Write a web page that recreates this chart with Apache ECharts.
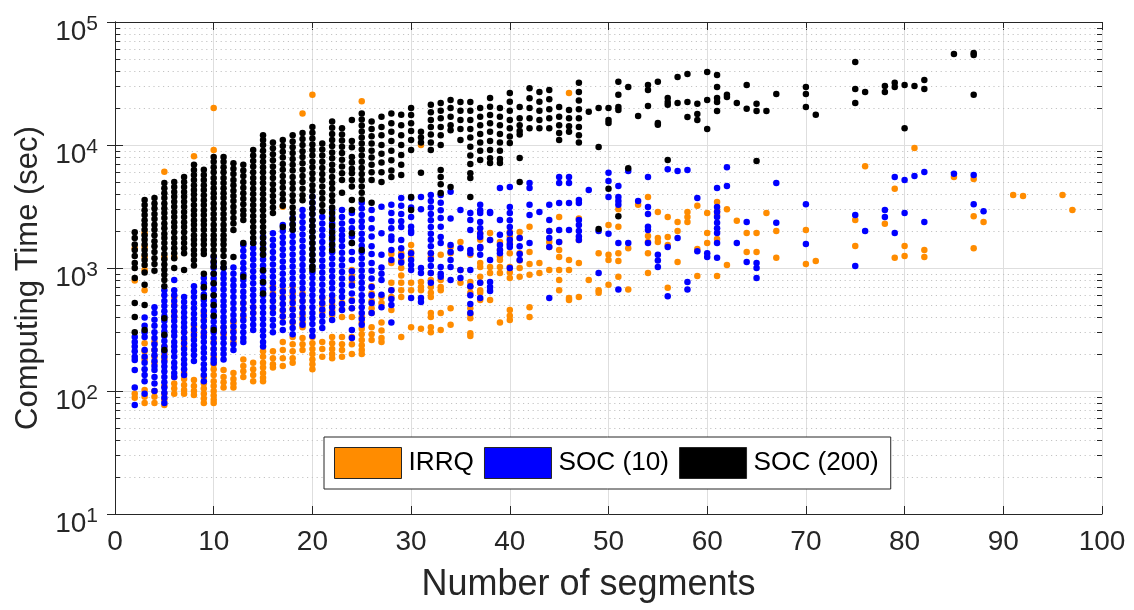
<!DOCTYPE html>
<html>
<head>
<meta charset="utf-8">
<title>Computing time vs number of segments</title>
<script src="https://cdn.jsdelivr.net/npm/echarts@6/dist/echarts.min.js"></script>
<style>
  html, body { margin: 0; padding: 0; background: #ffffff; }
  #chart { width: 1134px; height: 610px; }
</style>
</head>
<body>
<div id="chart"></div>
<script>
// Computing time (sec) per run, grouped by number of segments: [segments, [times...]]
const irrqTimes = [
  [2, [1450, 790, 95, 88]],
  [3, [1930, 1480, 1230, 965, 660, 245, 210, 180, 102, 90, 80]],
  [4, [250, 215, 190, 170, 100, 90, 80]],
  [5, [6050, 1230, 230, 200, 180, 110, 95, 85, 77]],
  [6, [1230, 580, 500, 440, 400, 130, 115, 105, 95]],
  [7, [300, 260, 230, 140, 125, 112, 102, 95]],
  [8, [8100, 340, 300, 275, 123, 110, 100, 93]],
  [9, [430, 380, 330, 290, 130, 115, 105, 95, 87, 80]],
  [10, [20000, 9100, 250, 220, 190, 165, 150, 135, 120, 110, 100, 92, 85, 80]],
  [11, [330, 290, 148, 130, 118, 107]],
  [12, [360, 310, 270, 250, 140, 125, 115, 107]],
  [13, [520, 460, 400, 180, 160, 145, 130]],
  [14, [480, 430, 170, 150, 135, 120]],
  [15, [210, 190, 170, 155, 140, 128, 120]],
  [16, [710, 620, 540, 470, 210, 185, 165, 155]],
  [17, [3150, 660, 580, 510, 450, 400, 250, 215, 185, 160]],
  [18, [710, 620, 540, 470, 410, 360, 275, 240, 210, 185, 170]],
  [19, [18000, 620, 540, 470, 410, 360, 330, 270, 240, 215]],
  [20, [25600, 275, 245, 220, 200, 180, 165, 150]],
  [21, [570, 500, 440, 250, 220, 190]],
  [22, [570, 500, 450, 415, 275, 245, 220, 200, 185]],
  [23, [520, 460, 400, 275, 240, 215, 190]],
  [24, [965, 860, 760, 550, 470, 400, 275, 240, 200]],
  [25, [22700, 400, 360, 320, 290, 260, 235, 215, 200]],
  [26, [710, 620, 540, 470, 430, 330, 290, 260]],
  [27, [580, 520, 360, 310, 270, 250]],
  [28, [1300, 1100, 760, 660, 580, 456]],
  [29, [1320, 1150, 1000, 870, 760, 660, 580, 275]],
  [30, [1540, 1350, 1230, 760, 660, 330]],
  [31, [10000, 770, 700, 660, 320]],
  [32, [1320, 1230, 910, 800, 700, 630, 580, 430, 400, 330, 300]],
  [33, [1280, 800, 700, 660, 430, 313]],
  [34, [1480, 1320, 470, 345]],
  [35, [1630, 965, 760]],
  [36, [1280, 770, 700, 630, 470, 420, 390, 295, 280]],
  [37, [1930, 1700, 1480, 1100, 1020, 850, 760, 660, 630, 550]],
  [38, [1930, 1690, 1020, 910, 550]],
  [39, [1630, 1400, 1240, 1160, 1020, 910, 360]],
  [40, [1960, 1800, 1630, 1320, 1020, 920, 830, 456, 410, 378]],
  [41, [1960, 1750, 1320, 1150, 1000, 850]],
  [42, [2160, 1350, 1080, 880, 480, 400]],
  [43, [1100, 910]],
  [44, [2000, 1630, 1480, 965]],
  [45, [2600, 1630, 1400, 1230, 965, 800, 660]],
  [46, [26450, 1160, 965, 570, 550]],
  [47, [2530, 1690, 1100, 580]],
  [48, [800]],
  [49, [1320, 660, 630]],
  [50, [2240, 1280, 1160, 730]],
  [51, [3000, 2160, 1320, 1140, 850]],
  [52, [1450, 670]],
  [53, [3260]],
  [54, [3780, 1820, 1630, 1320, 910]],
  [55, [2850, 1750, 1630]],
  [56, [2600, 1790, 1540, 690]],
  [57, [2370, 2000, 1120]],
  [58, [2850, 2600, 2370]],
  [59, [3200, 1430, 860]],
  [60, [2800, 1930, 1600]],
  [61, [3440, 2900, 2700, 1720, 860]],
  [62, [3000, 1060]],
  [63, [2420]],
  [64, [1930, 1350]],
  [65, [1930, 1350]],
  [66, [2800]],
  [67, [2000, 1210]],
  [70, [2040, 1080]],
  [71, [1140]],
  [75, [2460, 1510]],
  [76, [6730]],
  [78, [2290]],
  [79, [4400, 1210]],
  [80, [1510, 1250]],
  [81, [9470]],
  [82, [1400, 1230]],
  [85, [5500]],
  [87, [5300, 2640, 1450]],
  [88, [2370]],
  [91, [3930]],
  [92, [3850]],
  [96, [3930]],
  [97, [2960]]
];

const soc10Times = [
  [2, [275, 250, 230, 210, 190, 179, 148, 107, 77]],
  [3, [395, 340, 300, 275, 215, 190, 170, 150, 135, 120, 95]],
  [4, [480, 430, 380, 340, 300, 270, 240, 215, 195, 175, 160, 148, 130, 115, 100]],
  [5, [660, 600, 540, 490, 445, 405, 370, 335, 305, 280, 255, 230, 210, 190, 173, 158, 144, 130, 118, 107, 97, 88, 80]],
  [6, [800, 660, 600, 540, 490, 445, 405, 370, 335, 305, 280, 250, 230, 210, 190, 170, 155, 140, 130]],
  [7, [580, 530, 480, 435, 395, 360, 330, 300, 270, 245, 220, 200, 180, 165, 150, 135]],
  [8, [710, 640, 580, 520, 470, 425, 385, 350, 315, 285, 260, 235, 215, 195, 175]],
  [9, [830, 750, 680, 610, 550, 500, 450, 410, 370, 335, 300, 275, 250, 225, 205, 185, 165, 150, 135, 120]],
  [10, [1230, 1100, 1000, 900, 820, 740, 670, 600, 540, 490, 445, 400, 365, 330, 300, 270, 245, 220, 200, 180, 170]],
  [11, [1000, 900, 820, 740, 670, 600, 540, 490, 445, 400, 365, 330, 300, 270, 245, 220, 200, 180]],
  [12, [1010, 900, 800, 720, 650, 580, 520, 465, 415, 375, 335, 300, 270, 240, 215]],
  [13, [1540, 1380, 1240, 1100, 990, 890, 800, 720, 640, 580, 520, 465, 415, 375, 335, 300, 270, 250]],
  [14, [1600, 1450, 1300, 1170, 1050, 940, 840, 750, 670, 600, 540, 480, 430, 385, 345, 313]],
  [15, [1790, 1600, 1450, 1300, 1170, 1050, 940, 840, 750, 670, 600, 540, 480, 430, 385, 345, 310, 280, 250, 230]],
  [16, [1920, 1700, 1520, 1350, 1200, 1070, 950, 850, 760, 680, 600, 540, 480, 430, 380, 340, 300]],
  [17, [2240, 2000, 1780, 1600, 1420, 1270, 1130, 1010, 900, 800, 720, 640, 570, 510, 455, 405, 360, 313]],
  [18, [2550, 2280, 2040, 1820, 1620, 1450, 1290, 1150, 1030, 920, 820, 730, 650, 580, 520, 460, 410, 365, 325, 290]],
  [19, [2960, 2650, 2350, 2100, 1870, 1670, 1490, 1330, 1190, 1060, 950, 850, 760, 680, 600, 540, 480, 430, 385, 345]],
  [20, [3800, 3400, 3050, 2750, 2450, 2200, 1980, 1780, 1600, 1430, 1280, 1150, 1030, 920, 830, 740, 670, 600, 540, 480, 430, 390, 350, 310, 280]],
  [21, [2600, 2300, 2050, 1830, 1630, 1450, 1300, 1150, 1030, 920, 820, 730, 650, 580, 520, 460, 410, 365, 325]],
  [22, [2960, 2600, 2300, 2050, 1850, 1690, 1500, 1340, 1200, 1070, 950, 850, 760, 680, 600, 540, 480, 430, 378]],
  [23, [2960, 2600, 2300, 2050, 1850, 1690, 1500, 1330, 1180, 1050, 930, 820, 730, 650, 580, 510, 456]],
  [24, [2800, 2400, 2100, 1800, 1600, 1350, 1160, 940, 820, 720, 620, 540, 470, 313, 270]],
  [25, [3400, 3050, 2700, 2400, 2150, 1900, 1700, 1520, 1350, 1200, 1070, 950, 850, 760, 680, 600, 540, 480, 430, 385, 345]],
  [26, [2960, 2500, 2100, 1800, 1500, 1300, 1100, 950, 820, 700, 600, 520, 430]],
  [27, [3150, 1920, 1280, 1010, 900, 800, 605, 480]],
  [28, [3260, 2800, 2400, 2100, 1800, 1690, 1400, 1160, 660, 560, 500, 360]],
  [29, [3700, 3200, 2750, 2400, 2150, 1690, 1450, 1250, 1110]],
  [30, [3700, 3100, 2600, 2160, 2000, 1930, 1320, 1160, 1060, 965, 570]],
  [31, [3780, 3000, 1000, 910, 570, 530]],
  [32, [3930, 3500, 3100, 2750, 2450, 2150, 1900, 1700, 1500, 1320, 1170, 1040, 910, 760]],
  [33, [3930, 3400, 2950, 2550, 2160, 1790, 1600, 1020, 900, 850]],
  [34, [4160, 2530, 1540, 1350, 1160, 1020, 800]],
  [35, [2960, 1450, 965, 830]],
  [36, [2800, 2460, 2040, 1400, 1320, 965, 710, 600, 510, 430]],
  [37, [3260, 2950, 2800, 2370, 2100, 1900, 1790, 1480, 1450, 1280, 760, 570]],
  [38, [2850, 2800, 1690, 1160, 770, 700, 650]],
  [39, [4480, 2460, 1860, 1540, 1400, 1320]],
  [40, [4560, 3130, 2800, 2450, 2150, 1930, 1700, 1560, 1480, 1000]],
  [41, [1750, 1500, 1300, 1160]],
  [42, [4900, 4480, 3260, 2700, 1600]],
  [43, [2850]],
  [44, [3260, 2460, 2000, 1750, 1480, 570]],
  [45, [5500, 4900, 3370, 2040, 1630]],
  [46, [5500, 4900, 3370, 2040]],
  [47, [3570, 3370, 2460, 2240, 2000, 1800, 1690]],
  [48, [4300]],
  [49, [2000, 910]],
  [50, [5940, 5100, 3780, 1900]],
  [51, [4650, 3780, 3500, 3260, 1600, 670]],
  [52, [6150, 1600]],
  [53, [3500]],
  [54, [5500, 3130, 2750, 2160, 2040, 1600]],
  [55, [1280, 1150, 1020]],
  [56, [6360, 1480, 590]],
  [57, [6150, 1750]],
  [58, [6270, 770, 670]],
  [59, [3710, 1370]],
  [60, [1320, 1230]],
  [61, [4480, 3130, 2850, 2600, 2330, 2100, 1930, 1600, 1210]],
  [62, [6600, 4650]],
  [63, [1600]],
  [64, [2370, 1120]],
  [65, [1100, 1000, 830]],
  [67, [4900, 2330]],
  [70, [3300, 1570]],
  [75, [2700, 1040]],
  [76, [2000]],
  [78, [2960, 2600]],
  [79, [5500, 1930]],
  [80, [5200, 2800]],
  [81, [5600]],
  [82, [6040, 2370]],
  [85, [5830]],
  [87, [5710, 3300]],
  [88, [2900]]
];

const soc200Times = [
  [2, [1950, 1750, 1550, 1400, 1250, 1100, 1000, 830, 520, 400, 300]],
  [3, [3570, 3250, 2950, 2700, 2450, 2250, 2050, 1850, 1700, 1550, 1400, 1280, 1160, 1060, 920, 730, 500, 313]],
  [4, [3700, 3350, 3050, 2750, 2500, 2250, 2050, 1850, 1650, 1500, 1350, 1200, 1080, 950]],
  [5, [4900, 4450, 4050, 3700, 3350, 3050, 2800, 2550, 2300, 2100, 1900, 1750, 1600, 1450, 1300, 1180, 1070, 970, 880, 800, 710, 390, 286, 215]],
  [6, [5000, 4550, 4150, 3800, 3450, 3150, 2850, 2600, 2350, 2150, 1950, 1750, 1600, 1450, 1320, 1200, 1000]],
  [7, [5500, 5000, 4550, 4150, 3800, 3450, 3150, 2850, 2600, 2350, 2150, 1950, 1750, 1600, 1450, 1320, 965]],
  [8, [6900, 6250, 5700, 5200, 4700, 4300, 3950, 3600, 3250, 2950, 2700, 2450, 2250, 2050, 1850, 1700, 1550, 1400, 1280, 1160, 1050]],
  [9, [6300, 5700, 5200, 4700, 4300, 3900, 3550, 3250, 2950, 2700, 2450, 2250, 2050, 1850, 1700, 1550, 1400, 1300, 900, 700, 580]],
  [10, [8000, 7300, 6600, 6000, 5400, 4900, 4450, 4050, 3700, 3350, 3050, 2750, 2500, 2250, 2050, 1850, 1700, 1550, 1400, 1250, 1130, 1030, 900, 750, 600, 500, 410, 313]],
  [11, [8000, 7300, 6600, 6000, 5400, 4900, 4450, 4050, 3700, 3350, 3050, 2750, 2500, 2250, 2050, 1850, 1700, 1550, 1400, 1250, 1100, 1010]],
  [12, [7100, 6400, 5800, 5200, 4700, 4250, 3850, 3500, 3150, 2850, 2550, 2300, 2040, 1230]],
  [13, [6900, 6200, 5600, 5000, 4500, 4050, 3650, 3300, 2950, 2700, 2460, 1600, 850]],
  [14, [9100, 8200, 7400, 6700, 6000, 5400, 4900, 4400, 4000, 3600, 3250, 2950, 2650, 2400, 2150, 1950, 1750, 1600]],
  [15, [12000, 11000, 10000, 9000, 8100, 7300, 6600, 6000, 5400, 4900, 4400, 4000, 3600, 3250, 2950, 2650, 2400, 2150, 1950, 1750, 1580, 1420, 1280, 960, 770, 620]],
  [16, [10500, 9400, 8400, 7500, 6700, 6000, 5400, 4800, 4300, 3850, 3450, 3100, 2800]],
  [17, [11000, 9800, 8800, 7900, 7000, 6300, 5600, 5000, 4500, 4000, 3600, 3200, 2150]],
  [18, [12000, 10700, 9600, 8600, 7700, 6900, 6200, 5500, 4900, 4400, 3900, 3500, 3100, 2800, 2500, 2250, 2050]],
  [19, [12500, 11200, 10000, 8900, 8000, 7100, 6300, 5600, 5000, 4400, 3900, 3550]],
  [20, [14000, 12600, 11300, 10100, 9100, 8200, 7300, 6600, 5900, 5300, 4700, 4250, 3800, 3400, 3050, 2750, 2450, 2200, 1980, 1780, 1600, 1430, 1280, 1150, 1030, 970]],
  [21, [10300, 9200, 8200, 7300, 6500, 5800, 5200, 4600, 4100, 3650, 3250, 2900]],
  [22, [15500, 13800, 12300, 11000, 9800, 8700, 7800, 6900, 6200, 5500, 4900, 4400, 3900, 3500, 3100, 2800, 2500, 2200, 1950, 1750, 1560, 1400]],
  [23, [13700, 12200, 10900, 9700, 8600, 7600, 6700, 5900, 5200, 4100]],
  [24, [16000, 10800, 9600, 8000, 7200, 6400, 5900, 5200, 4600, 3570, 2960, 1920, 1600]],
  [25, [18000, 16100, 14400, 12900, 11500, 10300, 9200, 8200, 7300, 6500, 5800, 5200, 4600, 4100, 3600, 1400]],
  [26, [15500, 13500, 11800, 10300, 9000, 7900, 6900, 6000, 5200, 3400]],
  [27, [17000, 14000, 12000, 10000, 8500, 7200, 6000, 5000]],
  [28, [18000, 15000, 12800, 10800, 9000, 7500, 6200, 5500]],
  [29, [17600, 14500, 12000, 10000, 8300, 6900, 5700]],
  [30, [20000, 17500, 15000, 13000, 11000, 9100, 3780, 2960]],
  [31, [12800, 11500, 10500, 5940]],
  [32, [21200, 18500, 16000, 14000, 12200, 10500, 9100]],
  [33, [22000, 19000, 16500, 14000, 12000, 10000, 6270, 5500, 4800, 4080]],
  [34, [23200, 20000, 17000, 14500, 13200, 4560]],
  [35, [22400, 19000, 16000, 13500, 11000]],
  [36, [22400, 19000, 16000, 13500, 11500, 9700, 8200, 7000, 5900, 5400, 3780]],
  [37, [20000, 17000, 14500, 12300, 10500, 9000, 7550]],
  [38, [24100, 20500, 17500, 15000, 12800, 10800, 9100, 7800, 7130]],
  [39, [20000, 17000, 14500, 12300, 10500, 9000, 7700, 7130]],
  [40, [26450, 22500, 19000, 16000, 13700, 11700, 10400]],
  [41, [20400, 16500, 14500, 13000, 12200, 7850, 5000]],
  [42, [29000, 24000, 20000, 16500, 13700]],
  [43, [27000, 22500, 19000, 16000, 13700]],
  [44, [28000, 23500, 19500, 16500, 13700]],
  [45, [20400, 17000, 14500, 12500, 11000]],
  [46, [19300, 16500, 14200, 12800]],
  [47, [32000, 27000, 23000, 19500, 16500, 14000, 12000, 10500]],
  [48, [18600]],
  [49, [20000, 9650, 2080]],
  [50, [20000, 16000, 15100, 4400]],
  [51, [32600, 25600, 20400, 19300, 2640]],
  [52, [29600, 6480]],
  [53, [17200]],
  [54, [30800, 28000, 20800]],
  [55, [32600, 15100, 14600]],
  [56, [24100, 22400, 21200, 7550]],
  [57, [35700, 22000]],
  [58, [37800, 22400, 16900]],
  [59, [21600, 17900, 16000]],
  [60, [39200, 23200, 13500]],
  [61, [37100, 29600, 24100, 22400, 18900]],
  [62, [25600, 24600]],
  [63, [22000]],
  [64, [30800, 19700]],
  [65, [21600, 18900, 7400]],
  [66, [18900]],
  [67, [26000]],
  [70, [29600, 26000, 20400]],
  [71, [17600]],
  [75, [47300, 28500, 22000]],
  [76, [26950]],
  [78, [30200, 26950]],
  [79, [32000, 29600]],
  [80, [30800, 13700]],
  [81, [30200]],
  [82, [33800, 28500]],
  [85, [54900]],
  [87, [56000, 53900, 25600]]
];

const seriesNames = ['IRRQ', 'SOC (10)', 'SOC (200)'];
const seriesColors = ['#ff8c00', '#0000ff', '#000000'];
const xRange = [0, 100];
const yRange = [10, 100000];

// Minor log positions 2..9 of every decade inside the y range
const minorLogValues = [];
for (let d = yRange[0]; d < yRange[1]; d *= 10) {
  for (let k = 2; k <= 9; k++) minorLogValues.push(k * d);
}

const toPoints = cols => cols.flatMap(([x, ys]) => ys.map(y => [x, y]));

const FONT = '"Liberation Sans", Arial, Helvetica, sans-serif';
const INK = '#262626';

const chart = echarts.init(document.getElementById('chart'), null, { renderer: 'canvas' });

const axisLineStyle = { show: true, lineStyle: { color: INK, width: 1 } };

chart.setOption({
  animation: false,
  backgroundColor: '#ffffff',
  grid: { left: 115, right: 32, top: 22, bottom: 96, containLabel: false },
  legend: {
    data: seriesNames,
    left: 324,
    top: 437,
    orient: 'horizontal',
    icon: 'rect',
    itemWidth: 67,
    itemHeight: 31,
    itemGap: 10,
    padding: [10, 12, 10, 10],
    backgroundColor: '#ffffff',
    borderColor: INK,
    borderWidth: 1,
    borderRadius: 0,
    itemStyle: { borderColor: INK, borderWidth: 1 },
    textStyle: { fontFamily: FONT, fontSize: 26.2, color: '#000000', padding: [0, 0, 0, 2] },
    selectedMode: false
  },
  xAxis: [
    {
      type: 'value', min: xRange[0], max: xRange[1], interval: 10,
      position: 'bottom',
      name: 'Number of segments', nameLocation: 'middle', nameGap: 53,
      nameTextStyle: { fontFamily: FONT, fontSize: 36, color: INK, padding: [0, 40, 0, 0] },
      axisLine: axisLineStyle,
      axisTick: { show: true, inside: true, length: 8, lineStyle: { color: INK } },
      axisLabel: { fontFamily: FONT, fontSize: 28, color: INK, margin: 14 },
      splitLine: { show: true, lineStyle: { color: '#dedede', width: 1 } }
    },
    {
      type: 'value', min: xRange[0], max: xRange[1], interval: 10,
      position: 'top',
      axisLine: axisLineStyle,
      axisTick: { show: true, inside: true, length: 8, lineStyle: { color: INK } },
      axisLabel: { show: false },
      splitLine: { show: false }
    }
  ],
  yAxis: [
    {
      type: 'log', logBase: 10, min: yRange[0], max: yRange[1],
      position: 'left',
      name: 'Computing Time (sec)', nameLocation: 'middle', nameGap: 68, nameRotate: 90,
      nameTextStyle: { fontFamily: FONT, fontSize: 31, color: INK, padding: [0, 20, 0, 0] },
      axisLine: axisLineStyle,
      axisTick: { show: true, inside: true, length: 8, lineStyle: { color: INK } },
      axisLabel: {
        margin: 17,
        verticalAlign: 'middle',
        formatter: v => '{b|10}{s|' + Math.round(Math.log10(v)) + '}',
        rich: {
          b: { fontFamily: FONT, fontSize: 28, color: INK, verticalAlign: 'middle', padding: [20, 0, 0, 0] },
          s: { fontFamily: FONT, fontSize: 21, color: INK, verticalAlign: 'middle', padding: [4, 0, 0, 0] }
        }
      },
      splitLine: { show: true, lineStyle: { color: '#dedede', width: 1 } }
    },
    {
      type: 'log', logBase: 10, min: yRange[0], max: yRange[1],
      position: 'right',
      axisLine: axisLineStyle,
      axisTick: { show: true, inside: true, length: 8, lineStyle: { color: INK } },
      axisLabel: { show: false },
      splitLine: { show: false }
    }
  ],
  series: [
    {
      // dotted minor grid and minor ticks at 2..9 of each decade
      type: 'custom',
      name: 'minor',
      xAxisIndex: 0, yAxisIndex: 0,
      silent: true,
      z: 1,
      data: minorLogValues.map(v => [xRange[0], v]),
      renderItem: (params, api) => {
        const v = api.value(1);
        const pL = api.coord([xRange[0], v]);
        const pR = api.coord([xRange[1], v]);
        const y = Math.round(pL[1]) + 0.5;
        return {
          type: 'group',
          children: [
            { type: 'line', shape: { x1: pL[0], y1: y, x2: pR[0], y2: y },
              style: { stroke: '#c4c4c4', lineWidth: 1, lineDash: [1.2, 3.6] } },
            { type: 'line', shape: { x1: pL[0], y1: y, x2: pL[0] + 5, y2: y },
              style: { stroke: INK, lineWidth: 1 } },
            { type: 'line', shape: { x1: pR[0] - 5, y1: y, x2: pR[0], y2: y },
              style: { stroke: INK, lineWidth: 1 } }
          ]
        };
      }
    },
    {
      name: seriesNames[0], type: 'scatter', symbol: 'circle', symbolSize: 6.5,
      itemStyle: { color: seriesColors[0], opacity: 1 }, z: 3,
      data: toPoints(irrqTimes)
    },
    {
      name: seriesNames[1], type: 'scatter', symbol: 'circle', symbolSize: 6.5,
      itemStyle: { color: seriesColors[1], opacity: 1 }, z: 4,
      data: toPoints(soc10Times)
    },
    {
      name: seriesNames[2], type: 'scatter', symbol: 'circle', symbolSize: 6.5,
      itemStyle: { color: seriesColors[2], opacity: 1 }, z: 5,
      data: toPoints(soc200Times)
    }
  ]
});
</script>
</body>
</html>
